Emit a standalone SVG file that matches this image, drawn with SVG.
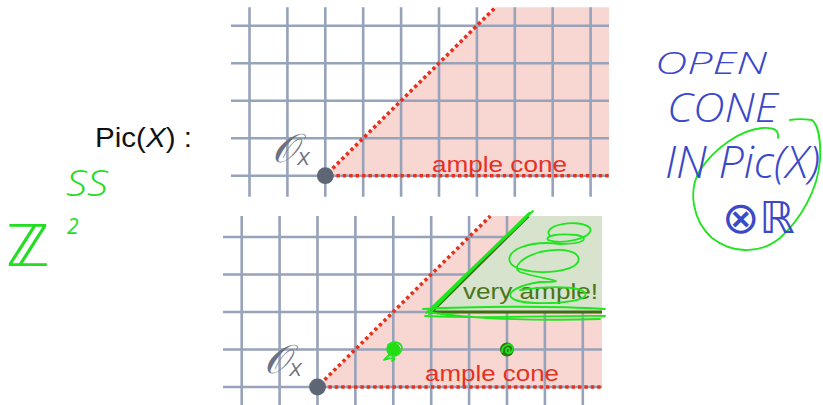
<svg xmlns="http://www.w3.org/2000/svg" width="823" height="405" viewBox="0 0 823 405">
<style>
.grid{stroke:#97a3ba;stroke-width:2.6;fill:none}
.pink{fill:#f8d6d1}
.dots{stroke:#e5321f;stroke-width:3.6;stroke-dasharray:3.4 3;fill:none}
.origin{fill:#5e6676}
.red{font-family:"Liberation Sans",Arial,sans-serif;font-size:22px;fill:#e5321f}
.ox{font-family:"DejaVu Serif","Liberation Serif",serif;fill:#6b7282}
.hand{font-family:"Open Sans","DejaVu Sans",sans-serif;font-style:italic;font-weight:300;fill:#3b48c8}
.hl{stroke:#1ee51e;stroke-width:1.8;fill:none;stroke-linecap:round;stroke-linejoin:round}
</style>
<rect width="823" height="405" fill="#ffffff"/>

<g id="pic-label">
<text x="95" y="147" font-family="Liberation Sans,Arial,sans-serif" font-size="27" fill="#111" textLength="97" lengthAdjust="spacingAndGlyphs">Pic(<tspan font-style="italic">X</tspan>) :</text>
</g>

<g id="top-panel">
<polygon class="pink" points="325.3,175.7 495.5,7.3 609,7.3 609,176.5"/>
<path class="grid" d="M249.5 7.3V196.7M287.4 7.3V196.7M325.3 7.3V196.7M363.2 7.3V196.7M401.1 7.3V196.7M439 7.3V196.7M476.9 7.3V196.7M514.8 7.3V196.7M552.7 7.3V196.7M590.6 7.3V196.7M231 25.7H609M231 63.2H609M231 100.7H609M231 138.2H609M231 175.7H609"/>
<path class="dots" d="M328 173 L495.5 7.3M330 175.7H609"/>
<circle class="origin" cx="325.3" cy="175.7" r="8.4"/>
<text class="red" x="432" y="171.5" textLength="135" lengthAdjust="spacingAndGlyphs">ample cone</text>
<text class="ox" x="272" y="162" font-size="40" font-style="italic">𝒪<tspan font-family="Liberation Sans,Arial,sans-serif" font-size="19" dy="3">X</tspan></text>
</g>

<g id="bottom-panel">
<polygon class="pink" points="317.5,387 490.3,216 602,216 602,387.8"/>
<path class="grid" d="M241.7 216V405M279.6 216V405M317.5 216V405M355.4 216V405M393.3 216V405M431.2 216V405M469.1 216V405M507 216V405M544.9 216V405M582.8 216V405M223 237H602M223 274.5H602M223 312H602M223 349.5H602M223 387H602"/>
<polygon points="431.2,312 528.2,216 602,216 602,312" fill="#d7e3cd"/>
<path d="M431.2 312 L528.2 216M431.2 312H602" stroke="#3f6d14" stroke-width="3.2" fill="none"/>
<path class="dots" d="M320 384.3 L490.3 216M322 387H602"/>
<circle class="origin" cx="317.5" cy="387" r="8.4"/>
<text class="red" x="425" y="381" textLength="134" lengthAdjust="spacingAndGlyphs">ample cone</text>
<text x="463" y="299" font-family="Liberation Sans,Arial,sans-serif" font-size="22" fill="#4a761a" textLength="135" lengthAdjust="spacingAndGlyphs">very ample!</text>
<text class="ox" x="264" y="373" font-size="40" font-style="italic">𝒪<tspan font-family="Liberation Sans,Arial,sans-serif" font-size="19" dy="3">X</tspan></text>
</g>

<g id="annotations-green">
<path class="hl" d="M426 313 L529 213 L532 212 L431 309 M429 314 C460 282 500 242 533 211 M436 306 C465 275 500 244 526 218"/>
<path class="hl" d="M423 309 C480 306 560 306 605 309 M425 316 C500 319 560 315 605 316 M428 312 C470 319 540 321 600 319"/>
<path class="hl" d="M550 236 C540 225 580 218 590 228 C595 238 562 245 548 240 C545 236 556 233 577 235 C590 238 585 244 560 244 C530 240 505 250 510 262 C515 275 570 276 578 262 C582 252 565 247 540 252 C520 258 512 268 520 272 C545 280 575 282 540 282 C520 285 505 292 512 298 C520 306 580 304 585 296 C590 288 560 284 520 290"/>
<circle cx="393.3" cy="349.5" r="7" fill="#22dd11"/>
<path class="hl" d="M388 345 C395 339 405 344 401 351 C397 358 387 357 389 350 M391 353 L384 360 C392 357 398 358 392 361"/>
<circle cx="507" cy="349.5" r="7" fill="#2e7912"/>
<path class="hl" d="M502 352 C502 344 512 342 513 348 C513 354 505 355 506 350 C507 346 511 348 509 353"/>
<path class="hl" d="M778 138 C779 130 774 127 762 128 C740 130 715 148 700 170 C688 190 692 220 712 238 C730 252 758 256 780 238 C800 220 818 190 820 160 C821 140 818 125 812 120 C805 119 795 119 790 120"/>
<text x="6" y="266" font-family="DejaVu Sans,sans-serif" font-size="58" font-style="italic" fill="#22dd22">ℤ</text>
<text x="67" y="234" font-family="Open Sans,sans-serif" font-size="21" font-style="italic" fill="#22dd22">2</text>
<text x="66" y="196" font-family="Open Sans,sans-serif" font-size="36" font-style="italic" font-weight="300" fill="#22dd22" textLength="42" lengthAdjust="spacingAndGlyphs">SS</text>
</g>

<g id="annotations-blue">
<text class="hand" x="655" y="74" font-size="32" textLength="112" lengthAdjust="spacingAndGlyphs">OPEN</text>
<text class="hand" x="667" y="122" font-size="40" textLength="111" lengthAdjust="spacingAndGlyphs">CONE</text>
<text class="hand" x="665" y="178" font-size="44" textLength="155" lengthAdjust="spacingAndGlyphs">IN Pic(X)</text>
<text class="hand" x="722" y="233" font-size="44" textLength="73" lengthAdjust="spacingAndGlyphs">⊗ℝ</text>
</g>
</svg>
